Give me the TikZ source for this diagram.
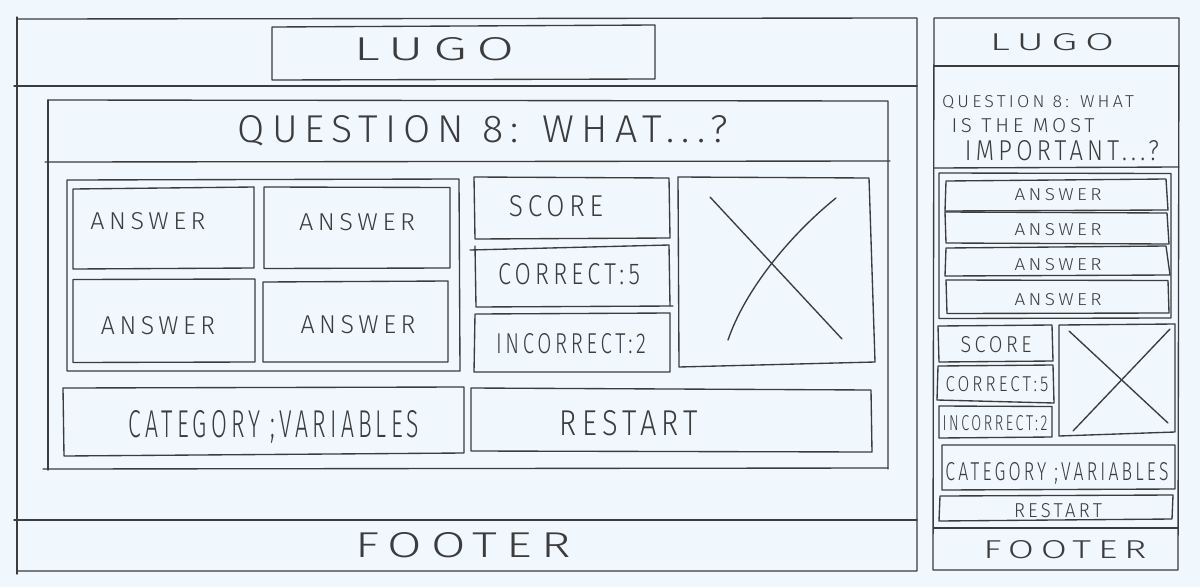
\documentclass[tikz,border=0pt]{standalone}
\usepackage{fontspec}
\usepackage{graphicx}
\newfontfamily\hand{Fira Sans}[UprightFont={* Light},LetterSpace=18]
\definecolor{paper}{RGB}{240,247,253}
\definecolor{pencil}{RGB}{60,60,60}
% hand lettering squeezed into a given width and cap height
\newcommand\hw[3]{\resizebox{#1pt}{#2pt}{\hand #3}}
\tikzset{
  sk/.style={draw=pencil,line width=1.35pt,line join=round,line cap=round},
  lbl/.style={anchor=base,inner sep=0pt,text=pencil}
}
\begin{document}
\begin{tikzpicture}[x=1pt,y=-1pt]
\fill[paper] (0,0) rectangle (1200,587);
\useasboundingbox (0,0) rectangle (1200,587);

% ---------------- desktop layout ----------------
\draw[sk] (17,19) -- (917,18) -- (917,571) -- (17,571) -- cycle;
\draw[sk] (17,17) -- (17,574);
\draw[sk] (14,86) -- (917,86);
\draw[sk] (272,27) -- (655,25) -- (655,79) -- (272,80) -- cycle;
% question bar and body panel
\draw[sk] (48,100) -- (888,101) -- (888,469);
\draw[sk] (48,100) -- (48,470);
\draw[sk] (45,162) -- (890,161);
\draw[sk] (43,469) -- (888,468);
% answer group
\draw[sk] (67,180) -- (459,179) -- (460,371) -- (67,371) -- cycle;
\draw[sk] (73,189) -- (254,187) -- (254,268) -- (73,269) -- cycle;
\draw[sk] (264,187) -- (450,187.5) -- (450,268) -- (264,268.5) -- cycle;
\draw[sk] (73,279.5) -- (255,279) -- (255,362) -- (73,362.5) -- cycle;
\draw[sk] (263,282) -- (448,281) -- (448,362) -- (263,362) -- cycle;
% score column
\draw[sk] (474,177) -- (669,178) -- (670,238) -- (475,239) -- cycle;
\draw[sk] (470,250) -- (669,245) -- (670,306);
\draw[sk] (475,246) -- (476,307) -- (673,306);
\draw[sk] (476,314) -- (670,313) -- (670,372) -- (474,372) -- (475,314);
% image placeholder
\draw[sk] (678,177) -- (869,178) -- (875,362) -- (679,367) -- cycle;
\draw[sk] (710,197) -- (842,339);
\draw[sk] (836,198) .. controls (790,235) and (745,290) .. (728,340);
% category / restart
\draw[sk] (63,388) -- (464,387) -- (464,453) -- (64,456) -- cycle;
\draw[sk] (471,388) -- (871,390) -- (872,452) -- (471,451) -- cycle;
% footer
\draw[sk] (14,520) -- (917,520);

\node[lbl] (dLogo) at (434,60) {\hw{160}{23}{LUGO}};
\node[lbl] (dQuestion) at (483,142) {\hw{490}{27}{QUESTION 8: WHAT...?}};
\node[lbl] (dAnsA) at (148,229) {\hw{115}{17}{ANSWER}};
\node[lbl] (dAnsB) at (357,230) {\hw{116}{17}{ANSWER}};
\node[lbl] (dAnsC) at (158,334) {\hw{114}{18}{ANSWER}};
\node[lbl] (dAnsD) at (358,333) {\hw{115}{18}{ANSWER}};
\node[lbl] (dScore) at (556,216) {\hw{94}{21}{SCORE}};
\node[lbl] (dCorrect) at (569,284) {\hw{142}{21}{CORRECT:5}};
\node[lbl] (dIncorrect) at (571,353) {\hw{150}{20}{INCORRECT:2}};
\node[lbl] (dCategory) at (274,437) {\hw{290}{27}{CATEGORY ;VARIABLES}};
\node[lbl] (dRestart) at (629,435) {\hw{138}{25}{RESTART}};
\node[lbl] (dFooter) at (463,557) {\hw{215}{25}{FOOTER}};

% ---------------- mobile layout ----------------
\draw[sk] (934,18) -- (1179,18) -- (1178,570) -- (933,570) -- cycle;
\draw[sk] (934,66) -- (1179,66);
\draw[sk] (934,168) -- (1179,167);
\draw[sk] (939,173) -- (1171,173.5) -- (1171,318) -- (939,318.5) -- cycle;
\draw[sk] (946,181) -- (1166,179) -- (1168,210) -- (945,211) -- cycle;
\draw[sk] (945,212) -- (1167,213) -- (1169,244) -- (946,243) -- cycle;
\draw[sk] (946,248) -- (1166,246) -- (1170,275) -- (945,276) -- cycle;
\draw[sk] (946,280) -- (1168,280.5) -- (1169,313) -- (947,313.5) -- cycle;
\draw[sk] (938,326) -- (1052,325) -- (1053,361) -- (939,362) -- cycle;
\draw[sk] (938,366) -- (1053,365) -- (1054,403) -- (937,400) -- cycle;
\draw[sk] (939,406) -- (1052,406.5) -- (1052,437) -- (939,438) -- cycle;
\draw[sk] (1059,325) -- (1175,324) -- (1175,432) -- (1059,436) -- cycle;
\draw[sk] (1069,331) -- (1168,423);
\draw[sk] (1170,329) -- (1073,431);
\draw[sk] (942,445) -- (1175,445) -- (1175,489) -- (942,490) -- cycle;
\draw[sk] (940,496) -- (1173,495) -- (1172,519) -- (939,521) -- cycle;
\draw[sk] (934,528) -- (1178,528);

\node[lbl] (mLogo) at (1052,50) {\hw{124}{17}{LUGO}};
\node[lbl] (mQuestionA) at (1038,107) {\hw{192}{12}{QUESTION 8: WHAT}};
\node[lbl] (mQuestionB) at (1023,132) {\hw{143}{14}{IS THE MOST}};
\node[lbl] (mQuestionC) at (1062,160) {\hw{194}{20}{IMPORTANT...?}};
\node[lbl] (mAnsA) at (1058,200) {\hw{87}{12}{ANSWER}};
\node[lbl] (mAnsB) at (1058,235) {\hw{87}{12}{ANSWER}};
\node[lbl] (mAnsC) at (1058,270) {\hw{87}{12}{ANSWER}};
\node[lbl] (mAnsD) at (1058,305) {\hw{87}{12}{ANSWER}};
\node[lbl] (mScore) at (996,352) {\hw{71}{16}{SCORE}};
\node[lbl] (mCorrect) at (997,391) {\hw{103}{15}{CORRECT:5}};
\node[lbl] (mIncorrect) at (995,430) {\hw{105}{15}{INCORRECT:2}};
\node[lbl] (mCategory) at (1057,480) {\hw{223}{18}{CATEGORY ;VARIABLES}};
\node[lbl] (mRestart) at (1058,517) {\hw{88}{14}{RESTART}};
\node[lbl] (mFooter) at (1065,558) {\hw{163}{18}{FOOTER}};
\end{tikzpicture}
\end{document}
